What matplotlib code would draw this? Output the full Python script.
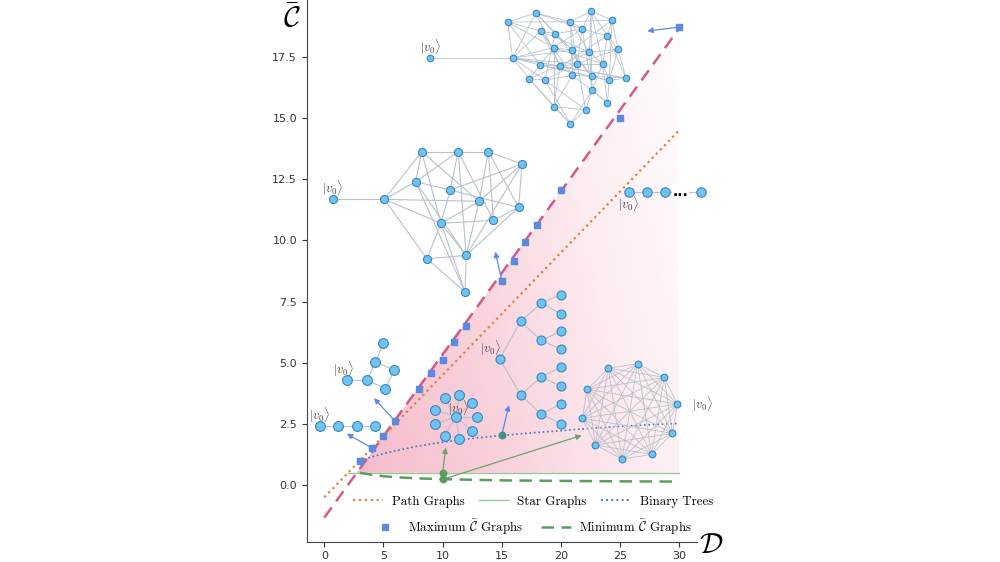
import numpy as np
import matplotlib.pyplot as plt
from itertools import combinations
from matplotlib.colors import LinearSegmentedColormap
from matplotlib.lines import Line2D

plt.rcParams['mathtext.fontset'] = 'cm'

# ---- data ----
max_D = [3, 4, 5, 6, 8, 9, 10, 11, 12, 15, 16, 17, 18, 20, 25, 30]
max_C = [1.0, 1.52, 2.0, 2.6, 3.92, 4.58, 5.12, 5.84, 6.52, 8.36, 9.15, 9.92, 10.63, 12.06, 15.0, 18.72]

fit_max_D = [0, 30]
fit_max_C = [-1.33, 18.67]

path_D = [0, 30]
path_C = [-0.5, 14.5]

star_D = [2, 30]
star_C = [0.5, 0.5]

tree_D = [3, 4, 5, 6, 8, 10, 12, 15, 18, 20, 22, 25, 28, 30]
tree_C = [1.0, 1.15, 1.28, 1.4, 1.6, 1.75, 1.88, 2.03, 2.15, 2.22, 2.3, 2.4, 2.48, 2.52]

min_D = [3, 4, 5, 6, 8, 10, 15, 20, 25, 30]
min_C = [0.5, 0.42, 0.36, 0.32, 0.27, 0.24, 0.19, 0.17, 0.15, 0.14]

# example graphs drawn inside the plot (node positions in data units)
pathL_x = [-0.4, 1.15, 2.78, 4.32]
pathL_y = [2.41, 2.41, 2.41, 2.41]

small_x = [1.91, 3.62, 4.32, 5.0, 5.9, 5.16]
small_y = [4.29, 4.29, 5.04, 5.79, 4.69, 3.94]
small_e = [(0, 1), (1, 2), (2, 3), (2, 4), (4, 5), (5, 1)]

star_x = [11.12, 10.17, 11.4, 12.47, 12.92, 12.47, 11.4, 10.17, 9.35, 9.35]
star_y = [2.79, 3.57, 3.67, 3.35, 2.79, 2.22, 1.89, 2.02, 2.48, 3.08]

bt_x = [14.83, 16.6, 16.6, 18.34, 18.34, 18.34, 18.34] + [19.97] * 8
bt_y = [5.16, 6.69, 3.68, 7.44, 5.91, 4.43, 2.9, 7.78, 7.0, 6.28, 5.56, 4.81, 4.04, 3.31, 2.51]
bt_e = [(0, 1), (0, 2), (1, 3), (1, 4), (2, 5), (2, 6), (3, 7), (3, 8),
        (4, 9), (4, 10), (5, 11), (5, 12), (6, 13), (6, 14)]

k10_x = [26.48, 28.73, 29.85, 29.43, 27.66, 25.16, 22.92, 21.8, 22.22, 24.01]
k10_y = [4.96, 4.4, 3.31, 2.11, 1.25, 1.06, 1.64, 2.73, 3.91, 4.78]

pathR_x = [25.72, 27.3, 28.81, 31.82]
pathR_y = [11.98, 11.98, 11.98, 11.98]

mid_x = [0.73, 5.08, 8.23, 11.32, 13.87, 16.71, 7.72, 10.64, 13.09, 16.43, 14.3, 9.86, 8.68, 11.99, 11.9]
mid_y = [11.68, 11.68, 13.63, 13.63, 13.63, 13.12, 12.4, 12.06, 11.6, 11.35, 10.82, 10.7, 9.25, 9.39, 7.89]
mid_e = [(0, 1), (1, 2), (1, 6), (1, 8), (1, 11), (1, 12), (2, 3), (2, 6), (2, 11), (2, 8),
         (3, 4), (3, 7), (3, 10), (3, 6), (3, 13), (4, 5), (4, 8), (4, 10), (4, 9),
         (5, 7), (5, 8), (5, 9), (5, 13), (6, 14), (6, 7), (7, 9), (7, 11), (8, 11),
         (8, 13), (9, 10), (9, 13), (10, 11), (11, 12), (11, 13), (11, 14), (12, 13),
         (12, 14), (13, 14), (6, 13)]

big_x = [8.96, 15.92, 15.5, 17.88, 20.81, 22.55, 24.32, 18.3, 19.52, 21.8, 23.93, 24.83,
         19.38, 20.95, 22.41, 18.26, 19.94, 21.37, 23.53, 17.33, 18.64, 20.98, 22.6, 24.09,
         25.5, 22.64, 19.38, 22.1, 23.93, 20.81]
big_y = [17.46, 17.46, 18.93, 19.3, 18.94, 19.38, 19.01, 18.56, 18.45, 18.64, 18.37, 17.82,
         17.88, 17.78, 17.69, 17.17, 17.12, 17.22, 17.22, 16.61, 16.56, 16.75, 16.71, 16.54,
         16.64, 16.14, 15.47, 15.34, 15.63, 14.76]
big_e = [(0, 1), (1, 2), (1, 3), (1, 7), (1, 12), (1, 15), (1, 19), (1, 20), (1, 13), (1, 16),
         (1, 24), (1, 17), (2, 3), (2, 4), (2, 7), (2, 15), (2, 12), (3, 4), (3, 8), (3, 13),
         (3, 9), (3, 16), (4, 5), (4, 6), (4, 9), (4, 14), (4, 17), (4, 21), (5, 6), (5, 9),
         (5, 10), (5, 14), (5, 18), (5, 22), (6, 10), (6, 11), (6, 13), (6, 23), (7, 8),
         (7, 12), (7, 16), (7, 21), (7, 14), (8, 9), (8, 13), (8, 20), (8, 22), (9, 10),
         (9, 17), (9, 25), (9, 12), (10, 11), (10, 18), (10, 16), (10, 24), (11, 14), (11, 23),
         (11, 24), (11, 17), (12, 13), (12, 15), (12, 18), (12, 26), (13, 14), (13, 21),
         (13, 22), (14, 18), (14, 25), (14, 19), (15, 16), (15, 19), (15, 22), (15, 23),
         (16, 17), (16, 26), (16, 24), (17, 18), (17, 21), (17, 27), (17, 20), (18, 23),
         (18, 25), (18, 28), (19, 20), (19, 26), (19, 29), (20, 21), (20, 27), (20, 29),
         (21, 22), (21, 26), (21, 28), (22, 23), (22, 25), (22, 24), (23, 28), (23, 24),
         (25, 27), (25, 29), (25, 28), (26, 29), (26, 27), (27, 29)]

# arrows: (start, end)
blue_arrows = [((4, 1.52), (1.9, 2.1)), ((6, 2.6), (4.2, 3.55)), ((15, 8.36), (14.45, 9.54)),
               ((30, 18.72), (27.3, 18.56)), ((15, 2.03), (15.6, 3.27))]
green_arrows = [((10, 0.5), (10.26, 1.53)), ((10, 0.23), (21.76, 2.03))]

# ---- colours ----
c_max_line = '#d4588a'
c_max_pt = '#5b8be0'
c_path = '#e0823e'
c_star = '#9cc79c'
c_tree = '#3f78b2'
c_min = '#5a9e5a'
c_node = '#6ec4ef'
c_node_edge = '#3a86c2'
c_edge = '#b9c1cd'

fig = plt.figure(figsize=(10, 5.62), dpi=100)
ax = fig.add_axes([0.3067, 0.036, 0.39, 0.964])

# gradient fill between maximum line and star line
fill_D = np.array([2.75, 30])
upper = np.interp(fill_D, fit_max_D, fit_max_C)
poly = ax.fill_between(fill_D, [0.5, 0.5], upper, facecolor='none', edgecolor='none')
cmap = LinearSegmentedColormap.from_list(
    'pk', [(0, '#f5bccb'), (0.35, '#f9d1db'), (0.7, '#fdecf0'), (1, '#fffcfd')])
gx, gy = np.meshgrid(np.linspace(0, 1, 200), np.linspace(0, 1, 200))
grad = np.clip(0.8 * gx + 0.25 * gy, 0, 1)
im = ax.imshow(grad, cmap=cmap, vmin=0, vmax=1, aspect='auto', extent=[2.75, 30.5, 0.5, 18.7],
               origin='lower', zorder=0.5)
im.set_clip_path(poly.get_paths()[0], transform=ax.transData)

ax.plot(fit_max_D, fit_max_C, '--', color=c_max_line, lw=1.8, dashes=(5, 3), zorder=2)
ax.plot(path_D, path_C, ':', color=c_path, lw=1.6, zorder=2)
ax.plot(star_D, star_C, '-', color=c_star, lw=1.0, zorder=2)
ax.plot(tree_D, tree_C, ':', color=c_tree, lw=1.2, zorder=2)
ax.plot(min_D, min_C, '--', color=c_min, lw=1.8, dashes=(5, 3), zorder=2)
ax.scatter(max_D, max_C, marker='s', s=22, color=c_max_pt, zorder=4)

ax.scatter([10, 10], [0.5, 0.23], s=22, color=c_min, zorder=4)
ax.scatter([15], [2.03], s=22, color='#3f8f8f', zorder=4)

for (s, e) in blue_arrows:
    ax.annotate('', xy=e, xytext=s, zorder=3,
                arrowprops=dict(arrowstyle='-|>', color=c_max_pt, lw=0.9, mutation_scale=8,
                                shrinkA=0, shrinkB=0))
for (s, e) in green_arrows:
    ax.annotate('', xy=e, xytext=s, zorder=3,
                arrowprops=dict(arrowstyle='-|>', color='#6aa46a', lw=0.9, mutation_scale=8,
                                shrinkA=0, shrinkB=0))


def draw_graph(xs, ys, edges, size, lw=0.8):
    for i, j in edges:
        ax.plot([xs[i], xs[j]], [ys[i], ys[j]], '-', color=c_edge, lw=lw, zorder=5,
                clip_on=False)
    ax.scatter(xs, ys, s=size, color=c_node, edgecolors=c_node_edge, linewidths=0.8,
               zorder=6, clip_on=False)


draw_graph(pathL_x, pathL_y, [(0, 1), (1, 2), (2, 3)], 50)
draw_graph(small_x, small_y, small_e, 50)
draw_graph(star_x, star_y, [(0, k) for k in range(1, 10)], 50)
draw_graph(bt_x, bt_y, bt_e, 42)
draw_graph(k10_x, k10_y, list(combinations(range(10), 2)), 24, lw=0.6)
draw_graph(pathR_x, pathR_y, [(0, 1), (1, 2), (2, 3)], 46)
draw_graph(mid_x, mid_y, mid_e, 34)
draw_graph(big_x, big_y, big_e, 22, lw=0.6)

ax.text(30.13, 11.98, '...', fontsize=10, fontweight='bold', ha='center', va='center',
        zorder=7, bbox=dict(facecolor='white', edgecolor='none', pad=0.5), clip_on=False)

ket = r'$|v_0\rangle$'
kets = [(-0.4, 2.86, 'center'), (1.6, 4.74, 'center'), (11.37, 3.13, 'center'),
        (14.1, 5.6, 'center'), (31.1, 3.31, 'left'), (25.7, 11.5, 'center'),
        (0.73, 12.14, 'center'), (8.96, 17.9, 'center')]
for kx, ky, ha in kets:
    ax.text(kx, ky, ket, fontsize=9, ha=ha, va='center', color='#444444', zorder=7,
            clip_on=False)

ax.set_xlim(-1.49, 31.48)
ax.set_ylim(-2.32, 19.83)
ax.set_xticks([0, 5, 10, 15, 20, 25, 30])
ax.set_yticks([0.0, 2.5, 5.0, 7.5, 10.0, 12.5, 15.0, 17.5])
ax.set_yticklabels(['0.0', '2.5', '5.0', '7.5', '10.0', '12.5', '15.0', '17.5'])
ax.tick_params(labelsize=8, length=3.5, width=0.8, colors='#333333')
for side in ['top', 'right']:
    ax.spines[side].set_visible(False)
for side in ['left', 'bottom']:
    ax.spines[side].set_color('#444444')

fig.text(0.292, 0.994, r'$\bar{\mathcal{C}}$', fontsize=21, ha='center', va='top')
fig.text(0.711, 0.006, r'$\mathcal{D}$', fontsize=21, ha='center', va='bottom')

# legends (two rows, each centred under the curves)
leg_font = {'family': 'cmr10', 'size': 9.3}
h1 = [Line2D([], [], ls=':', color=c_path, lw=1.6),
      Line2D([], [], ls='-', color=c_star, lw=1.0),
      Line2D([], [], ls=':', color=c_tree, lw=1.4)]
l1 = ['Path Graphs', 'Star Graphs', 'Binary Trees']
leg1 = ax.legend(h1, l1, loc='center', bbox_to_anchor=(0.58, 0.074), ncol=3, frameon=False,
                 prop=leg_font, handlelength=2.3, handletextpad=0.7, columnspacing=1.1)
ax.add_artist(leg1)
h2 = [Line2D([], [], ls='none', marker='s', color=c_max_pt, markersize=5),
      Line2D([], [], ls='--', color=c_min, lw=1.8, dashes=(5, 3))]
l2 = [r'Maximum $\bar{\mathcal{C}}$ Graphs', r'Minimum $\bar{\mathcal{C}}$ Graphs']
ax.legend(h2, l2, loc='center', bbox_to_anchor=(0.575, 0.027), ncol=2, frameon=False,
          prop=leg_font, handlelength=2.3, handletextpad=0.6, columnspacing=1.4)

fig.savefig('out.png', dpi=100)
